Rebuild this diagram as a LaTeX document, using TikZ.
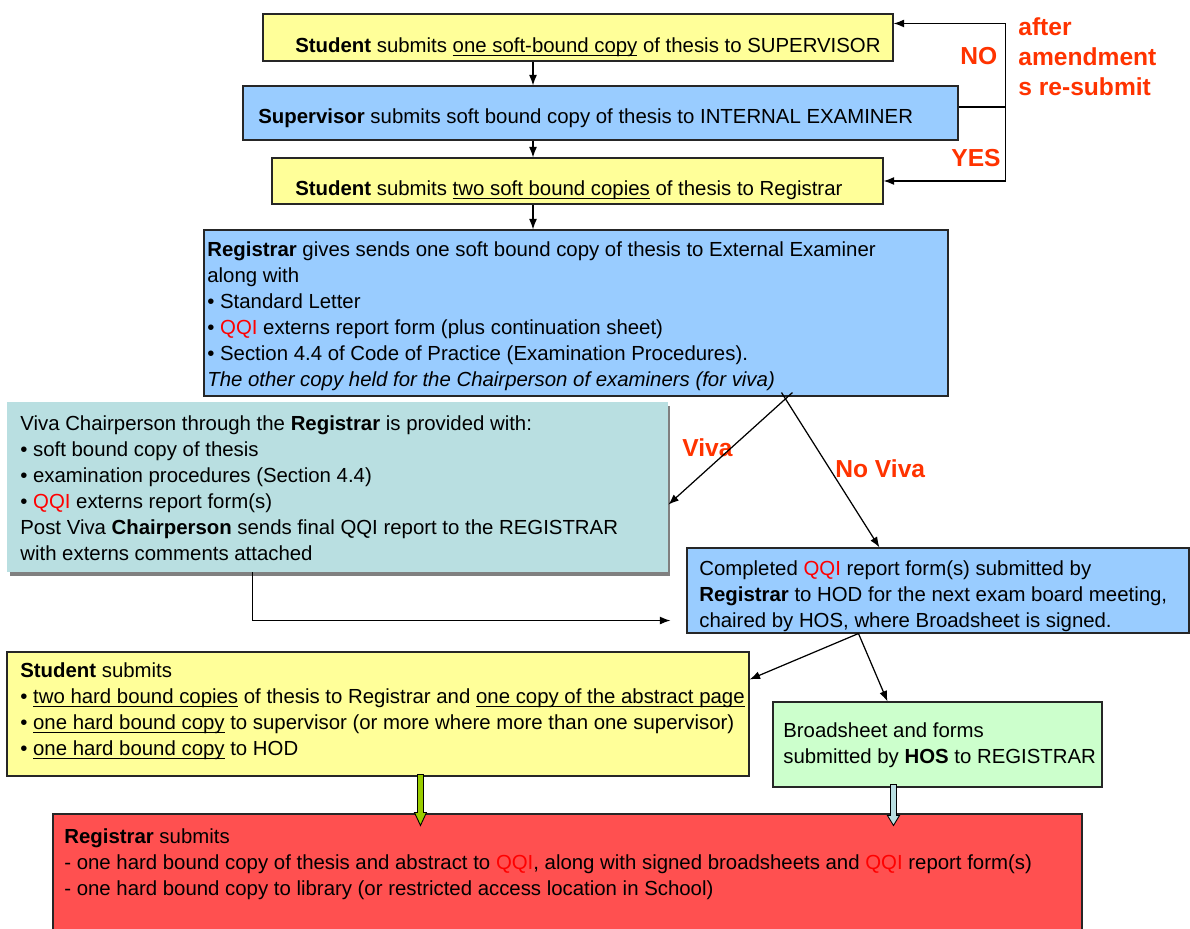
\documentclass[tikz,border=0pt]{standalone}
\usepackage{fontspec}
\setmainfont{Liberation Sans}
\usepackage{tikz}
\usetikzlibrary{calc,fit,positioning,arrows.meta}
\pgfdeclarelayer{background}
\pgfsetlayers{background,main}

\definecolor{yel}{HTML}{FFFF99}
\definecolor{blu}{HTML}{99CCFF}
\definecolor{vivateal}{HTML}{B9DFE1}
\definecolor{grn}{HTML}{CCFFCC}
\definecolor{redbox}{HTML}{FF5050}
\definecolor{lblred}{HTML}{FF3300}
\definecolor{qqired}{HTML}{FF0000}
\definecolor{arrgreen}{HTML}{99CC00}

\tikzset{
  box/.style={draw=black!85, line width=0.6pt, inner sep=0pt},
  txt/.style={anchor=north west, inner sep=0pt, align=left, font=\fontsize{11.6}{14.8}\selectfont},
  lbl/.style={anchor=base west, inner sep=0pt, text=lblred, font=\fontsize{14}{17}\selectfont\bfseries},
  arr/.style={-{Latex[length=6pt,width=4.5pt]}, line width=0.7pt},
  fat/.style={draw=black, line width=0.5pt}
}
\newcommand{\qqi}{\textcolor{qqired}{QQI}}
\newcommand{\uln}[1]{\setbox0\hbox{#1}\rlap{\rule[-1.8pt]{\wd0}{0.55pt}}\box0\relax}

\begin{document}
\begin{tikzpicture}[x=0.02cm,y=-0.02cm]
\useasboundingbox (0,0) rectangle (1190,929);

% boxes
\node[box, fill=yel, fit={(263,14) (893,61)}] (studsup) {};
\node[box, fill=blu, fit={(243,86) (958,140)}] (supint) {};
\node[box, fill=yel, fit={(272,158) (883,204)}] (studreg) {};
\node[box, fill=blu, fit={(204,230) (948,396)}] (regext) {};
\node[fill=vivateal, inner sep=0pt, fit={(7,402) (668,572)}] (vivachair) {};
\node[box, fill=blu, fit={(687,548) (1189,633)}] (qqiform) {};
\node[box, fill=yel, fit={(7,652) (749,776)}] (hardcopy) {};
\node[box, fill=grn, fit={(773,702) (1102,787)}] (broadsheet) {};
\node[box, fill=redbox, fit={(53,814) (1082,940)}] (regfinal) {};

\begin{pgfonlayer}{background}
  \fill[black!50] ($(vivachair.south west)+(3,4)$) rectangle ($(vivachair.north east)+(2,4)$);
\end{pgfonlayer}

% texts
\node[txt] (t1) at (295,33.8) {\strut\textbf{Student} submits \uln{one soft-bound copy} of thesis to SUPERVISOR};
\node[txt] (t2) at (258,104.8) {\strut\textbf{Supervisor} submits soft bound copy of thesis to INTERNAL EXAMINER};
\node[txt] (t3) at (295,176.8) {\strut\textbf{Student} submits \uln{two soft bound copies} of thesis to Registrar};
\node[txt] (t4) at (207,237.8) {\strut\textbf{Registrar} gives sends one soft bound copy of thesis to External Examiner\\
  along with\\
  \textbullet{} Standard Letter\\
  \textbullet{} \qqi{} externs report form (plus continuation sheet)\\
  \textbullet{} Section 4.4 of Code of Practice (Examination Procedures).\\
  \textit{The other copy held for the Chairperson of examiners (for viva)}};
\node[txt] (t5) at (20,411.8) {\strut Viva Chairperson through the \textbf{Registrar} is provided with:\\
  \textbullet{} soft bound copy of thesis\\
  \textbullet{} examination procedures (Section 4.4)\\
  \textbullet{} \qqi{} externs report form(s)\\
  Post Viva \textbf{Chairperson} sends final QQI report to the REGISTRAR\\
  with externs comments attached};
\node[txt] (t6) at (699,556.8) {\strut Completed \qqi{} report form(s) submitted by\\
  \textbf{Registrar} to HOD for the next exam board meeting,\\
  chaired by HOS, where Broadsheet is signed.};
\node[txt] (t7) at (20,658.8) {\strut\textbf{Student} submits\\
  \textbullet{} \uln{two hard bound copies} of thesis to Registrar and \uln{one copy of the abstract page}\\
  \textbullet{} \uln{one hard bound copy} to supervisor (or more where more than one supervisor)\\
  \textbullet{} \uln{one hard bound copy} to HOD};
\node[txt] (t8) at (783,718.8) {\strut Broadsheet and forms\\
  submitted by \textbf{HOS} to REGISTRAR};
\node[txt] (t9) at (64,824.8) {\strut\textbf{Registrar} submits\\
  - one hard bound copy of thesis and abstract to \qqi, along with signed broadsheets and \qqi{} report form(s)\\
  - one hard bound copy to library (or restricted access location in School)};

% labels
\node[lbl] (no) at (960,65) {NO};
\node[lbl] (yes) at (951,167) {YES};
\node[lbl, anchor=north west, align=left] (resub) at (1018,14.1) {\strut after\\amendment\\s re-submit};
\node[lbl] (viva) at (682,456) {Viva};
\node[lbl] (noviva) at (835,477) {No Viva};

% connectors
\coordinate (spine) at (533,0);
\draw[arr] (studsup.south -| spine) -- (supint.north -| spine);
\draw[arr] (supint.south -| spine) -- (studreg.north -| spine);
\draw[arr] (studreg.south -| spine) -- (regext.north -| spine);

\draw[line width=0.7pt] ($(supint.east)+(0,-6)$) -- ++(47,0) coordinate (fb);
\draw[arr] (fb) |- ($(studsup.north east)+(0,10)$);
\draw[arr] (fb) |- (studreg.east);

\coordinate (vs) at ($(regext.south west)+(589,-4)$);
\coordinate (nvs) at ($(regext.south west)+(578,-4)$);
\draw[arr] (vs) -- ($(vivachair.north east)+(0,103)$);
\draw[arr] (nvs) -- ($(qqiform.north west)+(193,0)$);

\draw[arr] ($(vivachair.south west)+(246,0)$) |- ($(qqiform.south west)+(-16,-13)$);

\coordinate (qs) at ($(qqiform.south west)+(172,0)$);
\draw[arr] (qs) -- ($(hardcopy.north east)+(0,28)$);
\draw[arr] (qs) -- ($(broadsheet.north west)+(115,0)$);

% block arrows
\draw[fat, fill=arrgreen] ($(hardcopy.south west)+(411,-2)$) -- ++(6,0) -- ++(0,38) -- ++(3,0) -- ++(-6,13) -- ++(-6,-13) -- ++(3,0) -- cycle;
\draw[fat, fill=vivateal] ($(broadsheet.south west)+(118,-3)$) -- ++(6,0) -- ++(0,31) -- ++(3,0) -- ++(-6,10) -- ++(-6,-10) -- ++(3,0) -- cycle;
\end{tikzpicture}
\end{document}
